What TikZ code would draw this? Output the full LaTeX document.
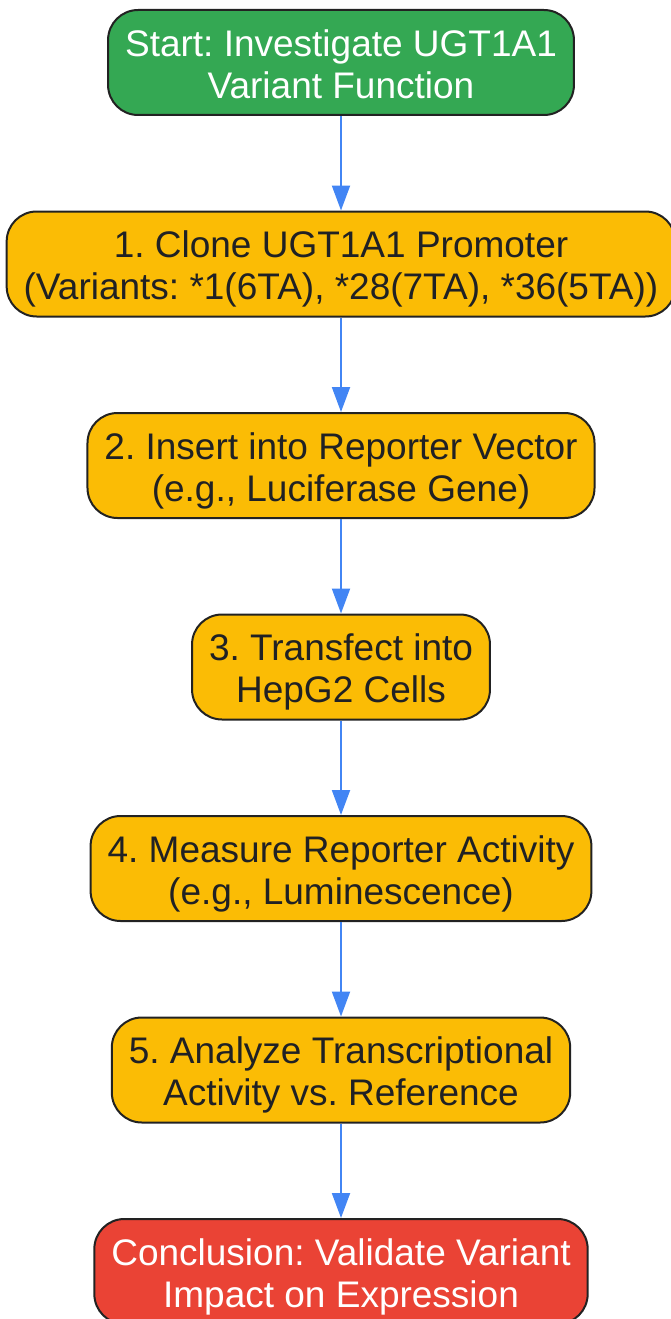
\documentclass[tikz,border=0pt]{standalone}
\usepackage{fontspec}
\setmainfont{Liberation Sans}
\usetikzlibrary{arrows.meta}
\definecolor{startgreen}{HTML}{34A853}
\definecolor{stepyellow}{HTML}{FBBC05}
\definecolor{endred}{HTML}{EA4335}
\definecolor{flowblue}{HTML}{4285F4}
\definecolor{boxline}{HTML}{222222}
\definecolor{steptext}{HTML}{202124}
% struts for top and bottom line of each box
\newcommand{\lntop}{\rule{0pt}{37pt}}
\newcommand{\lnbot}{\rule[-7.8pt]{0pt}{7.8pt}}
\frenchspacing
\tikzset{
  box/.style={draw=boxline, line width=2pt, rounded corners=30pt,
    minimum height=105pt, inner xsep=17pt, inner ysep=0pt, align=center,
    font=\fontsize{37pt}{42pt}\selectfont\frenchspacing},
  startbox/.style={box, fill=startgreen, text=white},
  stepbox/.style={box, fill=stepyellow, text=steptext},
  endbox/.style={box, fill=endred, text=white}
}
\begin{document}
\begin{tikzpicture}[node distance=201.5pt]
    \useasboundingbox (0,0) rectangle (670pt,-1319pt);
    \node[startbox] (0) at (341pt,-62.5pt) {\lntop Start: Investigate UGT1A1\\Variant Function\lnbot};
    \node[stepbox, below of=0] (1) {\lntop 1. Clone UGT1A1 Promoter\\(Variants: *1(6TA), *28(7TA), *36(5TA))\lnbot};
    \node[stepbox, below of=1] (2) {\lntop 2. Insert into Reporter Vector\\(e.g., Luciferase Gene)\lnbot};
    \node[stepbox, below of=2] (3) {\lntop 3. Transfect into\\HepG2 Cells\lnbot};
    \node[stepbox, below of=3] (4) {\lntop 4. Measure Reporter Activity\\(e.g., Luminescence)\lnbot};
    \node[stepbox, below of=4] (5) {\lntop 5. Analyze Transcriptional\\Activity vs. Reference\lnbot};
    \node[endbox, below of=5] (6) {\lntop Conclusion: Validate Variant\\Impact on Expression\lnbot};
    \draw[-{Triangle[length=25pt, width=18pt]}, line width=2pt, flowblue]
    (0) edge (1)
    (1) edge (2)
    (2) edge (3)
    (3) edge (4)
    (4) edge (5)
    (5) edge (6);
\end{tikzpicture}
\end{document}
